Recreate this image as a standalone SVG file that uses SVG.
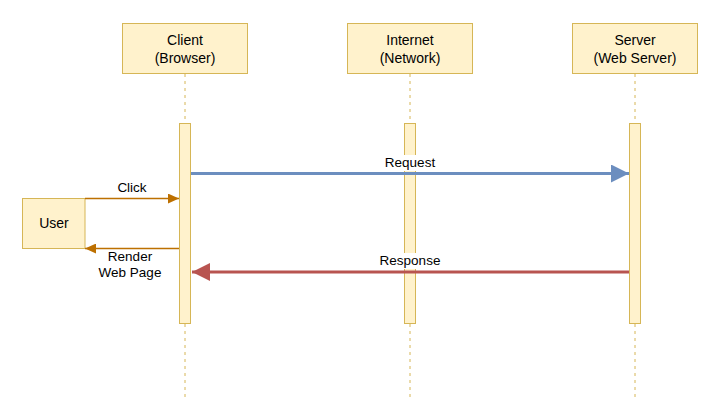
<svg xmlns="http://www.w3.org/2000/svg" width="717" height="420" viewBox="0 0 717 420">
<style>
.box{fill:#fff2cc;stroke:#d6b656;stroke-width:1}
.life{stroke:#d6b656;stroke-width:1;stroke-dasharray:3 4;fill:none}
.t{font-family:"Liberation Sans",Arial,sans-serif;font-size:14px;fill:#000;text-anchor:middle}
.lbl{font-family:"Liberation Sans",Arial,sans-serif;font-size:13.5px;fill:#000;text-anchor:middle}
</style>
<defs>
<marker id="hb" markerUnits="userSpaceOnUse" markerWidth="18" markerHeight="18" viewBox="0 0 17 17" refX="17" refY="8.5" orient="auto"><path d="M0,0 L17,8.5 L0,17 Z" fill="#6c8ebf"/></marker>
<marker id="hr" markerUnits="userSpaceOnUse" markerWidth="18" markerHeight="18" viewBox="0 0 17 17" refX="17" refY="8.5" orient="auto"><path d="M0,0 L17,8.5 L0,17 Z" fill="#b85450"/></marker>
<marker id="ho" markerUnits="userSpaceOnUse" markerWidth="11" markerHeight="10" viewBox="0 0 10 9" refX="10" refY="4.5" orient="auto"><path d="M0,0 L10,4.5 L0,9 Z" fill="#bd7000"/></marker>
</defs>
<rect width="717" height="420" fill="#fff"/>
<g id="client">
<rect class="box" x="122.5" y="23.5" width="125" height="50"/>
<text class="t" x="185" y="45">Client</text>
<text class="t" x="185" y="63">(Browser)</text>
<line class="life" x1="185" y1="74" x2="185" y2="123"/>
<line class="life" x1="185" y1="324" x2="185" y2="400"/>
<rect class="box" x="179.5" y="123.5" width="11" height="200"/>
</g>
<g id="internet">
<rect class="box" x="347.5" y="23.5" width="125" height="50"/>
<text class="t" x="410" y="45">Internet</text>
<text class="t" x="410" y="63">(Network)</text>
<line class="life" x1="410" y1="74" x2="410" y2="123"/>
<line class="life" x1="410" y1="324" x2="410" y2="400"/>
<rect class="box" x="404.5" y="123.5" width="11" height="200"/>
</g>
<g id="server">
<rect class="box" x="572.5" y="23.5" width="125" height="50"/>
<text class="t" x="635" y="45">Server</text>
<text class="t" x="635" y="63">(Web Server)</text>
<line class="life" x1="635" y1="74" x2="635" y2="123"/>
<line class="life" x1="635" y1="324" x2="635" y2="400"/>
<rect class="box" x="629.5" y="123.5" width="11" height="200"/>
</g>
<g id="user">
<rect class="box" x="22.5" y="198.5" width="62.5" height="50"/>
<text class="t" x="54" y="228">User</text>
</g>
<g id="connectors">
<line x1="191" y1="173.5" x2="629" y2="173.5" stroke="#6c8ebf" stroke-width="3" marker-end="url(#hb)"/>
<rect x="384" y="155" width="53" height="16" fill="#fff"/>
<text class="lbl" x="410" y="167">Request</text>
<line x1="629" y1="272" x2="192" y2="272" stroke="#b85450" stroke-width="3" marker-end="url(#hr)"/>
<rect x="378" y="253" width="64" height="16" fill="#fff"/>
<text class="lbl" x="410" y="265">Response</text>
<line x1="85" y1="198.5" x2="179" y2="198.5" stroke="#bd7000" stroke-width="1.5" marker-end="url(#ho)"/>
<text class="lbl" x="132" y="192">Click</text>
<line x1="179" y1="248.5" x2="85" y2="248.5" stroke="#bd7000" stroke-width="1.5" marker-end="url(#ho)"/>
<text class="lbl" x="130" y="261">Render</text>
<text class="lbl" x="130" y="277">Web Page</text>
</g>
</svg>
